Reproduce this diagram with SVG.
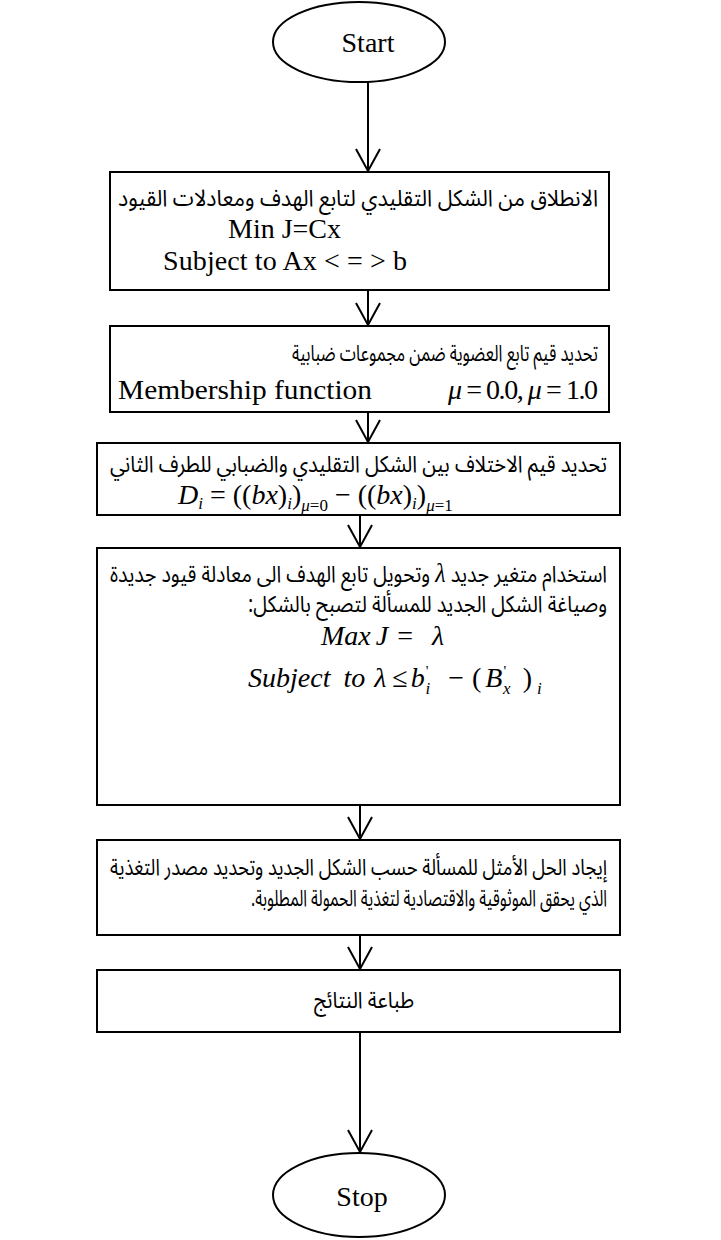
<svg xmlns="http://www.w3.org/2000/svg" width="721" height="1240" viewBox="0 0 721 1240">
<style>
.shape { fill: #fff; stroke: #000; stroke-width: 2; }
.conn { fill: none; stroke: #000; stroke-width: 2; }
.ar { font-family: 'Noto Sans Arabic', 'DejaVu Sans', sans-serif; font-size: 23px; fill: #000; }
.tm { font-family: 'Liberation Serif', 'Times New Roman', serif; font-size: 28px; fill: #000; }
.it { font-style: italic; }
.up { font-style: normal; }
.sub { font-size: 17px; }
</style>
<defs>
<marker id="ah" viewBox="-24 -14 26 28" refX="0" refY="0" markerWidth="26" markerHeight="28" markerUnits="userSpaceOnUse" orient="auto" overflow="visible">
<path d="M-22,-12 L0,0 L-22,12" fill="none" stroke="#000" stroke-width="2"/>
</marker>
</defs>
<g id="connectors">
<line class="conn" x1="368" y1="82" x2="368" y2="171" marker-end="url(#ah)"/>
<line class="conn" x1="368" y1="290" x2="368" y2="325" marker-end="url(#ah)"/>
<line class="conn" x1="368" y1="412" x2="368" y2="442" marker-end="url(#ah)"/>
<line class="conn" x1="360" y1="515" x2="360" y2="547" marker-end="url(#ah)"/>
<line class="conn" x1="360" y1="805" x2="360" y2="839" marker-end="url(#ah)"/>
<line class="conn" x1="360" y1="935" x2="360" y2="969" marker-end="url(#ah)"/>
<line class="conn" x1="360" y1="1032" x2="360" y2="1152" marker-end="url(#ah)"/>
</g>
<g id="start">
<ellipse class="shape" cx="359" cy="42" rx="86" ry="40"/>
<text class="tm" x="368" y="52" text-anchor="middle" font-size="30">Start</text>
</g>
<g id="step1">
<rect class="shape" x="110" y="172" width="499" height="118"/>
<text class="ar" x="598" y="206" direction="rtl" textLength="480" lengthAdjust="spacingAndGlyphs">الانطلاق من الشكل التقليدي لتابع الهدف ومعادلات القيود</text>
<text class="tm" x="228" y="238">Min J=Cx</text>
<text class="tm" x="163" y="270" textLength="244" lengthAdjust="spacing">Subject to Ax &lt; = &gt; b</text>
</g>
<g id="step2">
<rect class="shape" x="110" y="326" width="499" height="86"/>
<text class="ar" x="598" y="361" direction="rtl" textLength="306" lengthAdjust="spacingAndGlyphs">تحديد قيم تابع العضوية ضمن مجموعات ضبابية</text>
<text class="tm" x="118" y="399" textLength="254" lengthAdjust="spacingAndGlyphs">Membership function</text>
<text class="tm" x="448" y="399" textLength="150" lengthAdjust="spacing"><tspan class="it">μ</tspan> = 0.0, <tspan class="it">μ</tspan> = 1.0</text>
</g>
<g id="step3">
<rect class="shape" x="97" y="443" width="523" height="72"/>
<text class="ar" x="607" y="472" direction="rtl" textLength="497" lengthAdjust="spacingAndGlyphs">تحديد قيم الاختلاف بين الشكل التقليدي والضبابي للطرف الثاني</text>
<text class="tm" x="178" y="504"><tspan class="it">D</tspan><tspan class="it sub" dy="5">i</tspan><tspan dy="-5"> = ((</tspan><tspan class="it">bx</tspan>)<tspan class="it sub" dy="5">i</tspan><tspan dy="-5">)</tspan><tspan class="sub" dy="7"><tspan class="it">μ</tspan>=0</tspan><tspan dy="-7"> − ((</tspan><tspan class="it">bx</tspan>)<tspan class="it sub" dy="5">i</tspan><tspan dy="-5">)</tspan><tspan class="sub" dy="7"><tspan class="it">μ</tspan>=1</tspan></text>
</g>
<g id="step4">
<rect class="shape" x="97" y="548" width="523" height="257"/>
<text class="ar" x="607" y="582" direction="rtl" textLength="497" lengthAdjust="spacingAndGlyphs">استخدام متغير جديد <tspan class="tm it" font-size="26">λ</tspan> وتحويل تابع الهدف الى معادلة قيود جديدة</text>
<text class="ar" x="607" y="612" direction="rtl" textLength="359" lengthAdjust="spacingAndGlyphs">وصياغة الشكل الجديد للمسألة لتصبح بالشكل:</text>
<text class="tm it" x="321" y="645" font-size="28">Max<tspan dx="5">J</tspan><tspan class="up" dx="9">=</tspan><tspan dx="19">λ</tspan></text>
<text class="tm it" x="248" y="687" font-size="28">Subject<tspan dx="13">to</tspan><tspan dx="9">λ</tspan><tspan class="up" dx="6">≤</tspan><tspan dx="3">b</tspan><tspan class="up" font-size="15" dx="1" dy="-11">'</tspan><tspan class="sub" dx="-3" dy="18">i</tspan><tspan class="up" dx="18" dy="-7">−</tspan><tspan class="up" dx="8">(</tspan><tspan dx="4">B</tspan><tspan class="up" font-size="15" dx="1" dy="-11">'</tspan><tspan class="sub" dx="-3" dy="18">x</tspan><tspan class="up" dx="12" dy="-7">)</tspan><tspan class="sub" dx="5" dy="7">i</tspan></text>
</g>
<g id="step5">
<rect class="shape" x="97" y="840" width="523" height="95"/>
<text class="ar" x="607" y="875" direction="rtl" textLength="497" lengthAdjust="spacingAndGlyphs">إيجاد الحل الأمثل للمسألة حسب الشكل الجديد وتحديد مصدر التغذية</text>
<text class="ar" x="607" y="906" direction="rtl" textLength="356" lengthAdjust="spacingAndGlyphs">الذي يحقق الموثوقية والاقتصادية لتغذية الحمولة المطلوبة.</text>
</g>
<g id="step6">
<rect class="shape" x="97" y="970" width="523" height="62"/>
<text class="ar" x="364" y="1008" text-anchor="middle" textLength="100" lengthAdjust="spacingAndGlyphs">طباعة النتائج</text>
</g>
<g id="stop">
<ellipse class="shape" cx="359" cy="1195" rx="86" ry="42"/>
<text class="tm" x="362" y="1206" text-anchor="middle" font-size="30">Stop</text>
</g>
</svg>
